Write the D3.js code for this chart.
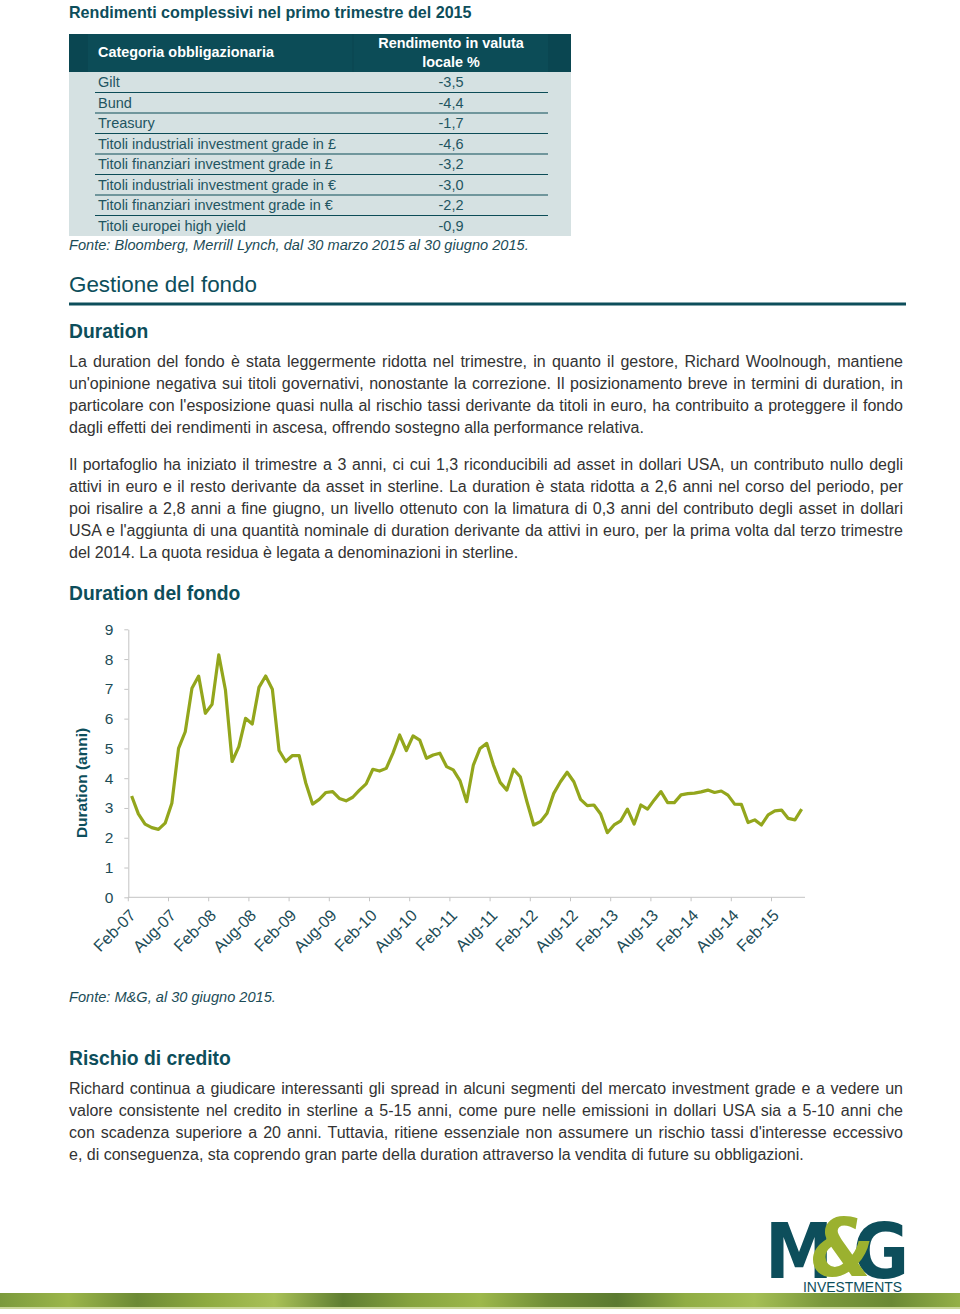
<!DOCTYPE html>
<html>
<head>
<meta charset="utf-8">
<script src="https://cdn.jsdelivr.net/npm/d3@7"></script>
<style>
  body { margin: 0; background: #fff; font-family: "Liberation Sans", Arial, sans-serif; }
  #page { position: relative; width: 960px; height: 1314px; overflow: hidden; }
  #page svg { position: absolute; left: 0; top: 0; }
  .para { position: absolute; left: 69px; width: 834px; font-size: 16px; line-height: 22px; color: #333; }
  .para div { white-space: nowrap; }
</style>
</head>
<body>
<div id="page"></div>
<script>
// ---- data ----
const tableTitle = "Rendimenti complessivi nel primo trimestre del 2015";
const categories = [
  "Gilt", "Bund", "Treasury",
  "Titoli industriali investment grade in £",
  "Titoli finanziari investment grade in £",
  "Titoli industriali investment grade in €",
  "Titoli finanziari investment grade in €",
  "Titoli europei high yield"
];
const returns = ["-3,5", "-4,4", "-1,7", "-4,6", "-3,2", "-3,0", "-2,2", "-0,9"];

// monthly duration, Feb-07 .. Jun-15
const duration = [
  3.40, 2.80, 2.46, 2.34, 2.28, 2.49, 3.16, 5.00, 5.56, 7.02,
  7.43, 6.18, 6.48, 8.14, 6.96, 4.56, 5.06, 6.01, 5.82, 7.05,
  7.43, 6.99, 4.93, 4.56, 4.76, 4.76, 3.83, 3.13, 3.29, 3.52,
  3.55, 3.32, 3.24, 3.36, 3.60, 3.81, 4.30, 4.24, 4.33, 4.84,
  5.45, 4.93, 5.42, 5.28, 4.67, 4.78, 4.84, 4.39, 4.28, 3.92,
  3.21, 4.44, 5.00, 5.17, 4.44, 3.86, 3.60, 4.30, 4.05, 3.21,
  2.43, 2.54, 2.82, 3.49, 3.88, 4.20, 3.88, 3.29, 3.08, 3.10,
  2.80, 2.17, 2.43, 2.57, 2.96, 2.46, 3.10, 2.96, 3.27, 3.55,
  3.18, 3.18, 3.44, 3.48, 3.50, 3.54, 3.60, 3.52, 3.57, 3.43,
  3.13, 3.12, 2.51, 2.60, 2.43, 2.77, 2.90, 2.93, 2.65, 2.60,
  2.96
];
const xTickLabels = ["Feb-07", "Aug-07", "Feb-08", "Aug-08", "Feb-09", "Aug-09", "Feb-10", "Aug-10",
  "Feb-11", "Aug-11", "Feb-12", "Aug-12", "Feb-13", "Aug-13", "Feb-14", "Aug-14", "Feb-15"];
const yTicks = [0, 1, 2, 3, 4, 5, 6, 7, 8, 9];

const para1 = [
  "La duration del fondo è stata leggermente ridotta nel trimestre, in quanto il gestore, Richard Woolnough, mantiene",
  "un'opinione negativa sui titoli governativi, nonostante la correzione. Il posizionamento breve in termini di duration, in",
  "particolare con l'esposizione quasi nulla al rischio tassi derivante da titoli in euro, ha contribuito a proteggere il fondo",
  "dagli effetti dei rendimenti in ascesa, offrendo sostegno alla performance relativa."
];
const para2 = [
  "Il portafoglio ha iniziato il trimestre a 3 anni, ci cui 1,3 riconducibili ad asset in dollari USA, un contributo nullo degli",
  "attivi in euro e il resto derivante da asset in sterline. La duration è stata ridotta a 2,6 anni nel corso del periodo, per",
  "poi risalire a 2,8 anni a fine giugno, un livello ottenuto con la limatura di 0,3 anni del contributo degli asset in dollari",
  "USA e l'aggiunta di una quantità nominale di duration derivante da attivi in euro, per la prima volta dal terzo trimestre",
  "del 2014. La quota residua è legata a denominazioni in sterline."
];
const para3 = [
  "Richard continua a giudicare interessanti gli spread in alcuni segmenti del mercato investment grade e a vedere un",
  "valore consistente nel credito in sterline a 5-15 anni, come pure nelle emissioni in dollari USA sia a 5-10 anni che",
  "con scadenza superiore a 20 anni. Tuttavia, ritiene essenziale non assumere un rischio tassi d'interesse eccessivo",
  "e, di conseguenza, sta coprendo gran parte della duration attraverso la vendita di future su obbligazioni."
];
const bandColors = ["#7b9a3c", "#9cb64a", "#6c8a35", "#8eaa40", "#a9c157", "#5f7e31", "#86a33e",
  "#9db84b", "#6f8d36", "#5b7a30", "#90ad44", "#a5bf55", "#7a983b", "#6a8934", "#94b048"];

// ---- colours ----
const teal = "#0d4e5b";
const tealText = "#1c4c57";
const lineGreen = "#93a61c";
const axisGrey = "#c4c4c4";

const page = d3.select("#page");
const svg = page.append("svg").attr("width", 960).attr("height", 1314)
  .style("font-family", "'Liberation Sans', Arial, sans-serif");

// ---- table ----
svg.append("text").attr("x", 69).attr("y", 18)
  .attr("font-size", 16.1).attr("font-weight", "bold").attr("fill", teal)
  .text(tableTitle);

svg.append("rect").attr("x", 69).attr("y", 34).attr("width", 502).attr("height", 38).attr("fill", "#0a4651");
svg.append("rect").attr("x", 88).attr("y", 34).attr("width", 460).attr("height", 38).attr("fill", "#0c4c57");
svg.append("rect").attr("x", 69).attr("y", 72).attr("width", 502).attr("height", 164).attr("fill", "#d5e1e2");
svg.append("line").attr("x1", 353).attr("x2", 353).attr("y1", 34).attr("y2", 72)
  .attr("stroke", "#0a4550").attr("stroke-width", 1);

svg.append("text").attr("x", 98).attr("y", 57)
  .attr("font-size", 14.4).attr("font-weight", "bold").attr("fill", "#fff")
  .text("Categoria obbligazionaria");
svg.append("text").attr("x", 451).attr("y", 48).attr("text-anchor", "middle")
  .attr("font-size", 14.4).attr("font-weight", "bold").attr("fill", "#fff")
  .text("Rendimento in valuta");
svg.append("text").attr("x", 451).attr("y", 67).attr("text-anchor", "middle")
  .attr("font-size", 14.4).attr("font-weight", "bold").attr("fill", "#fff")
  .text("locale %");

const rowY = d3.scaleBand().domain(d3.range(categories.length)).range([72, 236]);
const rows = svg.append("g").selectAll("g").data(categories).join("g")
  .attr("transform", (d, i) => `translate(0,${rowY(i)})`);
rows.append("text").attr("x", 98).attr("y", rowY.bandwidth() / 2 + 5)
  .attr("font-size", 14.5).attr("fill", "#1f5561").text(d => d);
rows.append("text").attr("x", 451).attr("y", rowY.bandwidth() / 2 + 5).attr("text-anchor", "middle")
  .attr("font-size", 14.5).attr("fill", "#1f5561").text((d, i) => returns[i]);
rows.filter((d, i) => i < categories.length - 1).append("line")
  .attr("x1", 95).attr("x2", 548).attr("y1", rowY.bandwidth()).attr("y2", rowY.bandwidth())
  .attr("stroke", "#0c4c57").attr("stroke-width", 1.2);

svg.append("text").attr("x", 69).attr("y", 250)
  .attr("font-size", 14.6).attr("font-style", "italic").attr("fill", tealText)
  .text("Fonte: Bloomberg, Merrill Lynch, dal 30 marzo 2015 al 30 giugno 2015.");

// ---- section headings ----
svg.append("text").attr("x", 69).attr("y", 292).attr("font-size", 22.4).attr("fill", teal).text("Gestione del fondo");
svg.append("rect").attr("x", 69).attr("y", 302.5).attr("width", 837).attr("height", 3).attr("fill", teal);
svg.append("text").attr("x", 69).attr("y", 338).attr("font-size", 19.3).attr("font-weight", "bold").attr("fill", teal).text("Duration");
svg.append("text").attr("x", 69).attr("y", 600).attr("font-size", 19.3).attr("font-weight", "bold").attr("fill", teal).text("Duration del fondo");
svg.append("text").attr("x", 69).attr("y", 1065).attr("font-size", 19.3).attr("font-weight", "bold").attr("fill", teal).text("Rischio di credito");

// ---- paragraphs (each line justified to the column width) ----
function addPara(lines, top) {
  const p = page.append("div").attr("class", "para").style("top", top + "px");
  p.selectAll("div").data(lines).join("div")
    .each(function (d, i) {
      const span = d3.select(this).append("span").text(d);
      if (i === lines.length - 1) return;
      const w = span.node().getBoundingClientRect().width;
      const gaps = d.split(" ").length - 1;
      d3.select(this).style("word-spacing", ((834 - w) / gaps) + "px");
    });
}
addPara(para1, 351);
addPara(para2, 454);
addPara(para3, 1078);

// ---- chart ----
const x = d3.scaleBand().domain(d3.range(duration.length)).range([128.3, 805]);
const y = d3.scaleLinear().domain([0, 9]).range([897.3, 629.3]);
const cx = i => x(i) + x.bandwidth() / 2;

const yAxis = svg.append("g").attr("transform", `translate(${x.range()[0]},0)`)
  .call(d3.axisLeft(y).tickValues(yTicks).tickSize(4).tickPadding(11).tickSizeOuter(0));
yAxis.select(".domain").attr("stroke", axisGrey);
yAxis.selectAll(".tick line").attr("stroke", axisGrey);
yAxis.selectAll(".tick text").attr("font-size", 15.5).attr("fill", tealText)
  .attr("font-family", "'Liberation Sans', Arial, sans-serif");

const tickIdx = d3.range(0, duration.length, 6);
const xAxis = svg.append("g").attr("transform", `translate(0,${y(0)})`);
xAxis.append("line").attr("x1", x.range()[0]).attr("x2", x.range()[1]).attr("stroke", axisGrey);
xAxis.selectAll("line.tk").data(tickIdx).join("line").attr("class", "tk")
  .attr("x1", i => x(i)).attr("x2", i => x(i)).attr("y1", 0).attr("y2", 4).attr("stroke", axisGrey);
xAxis.selectAll("text").data(tickIdx).join("text")
  .attr("transform", i => `translate(${cx(i) + 5},${19}) rotate(-45)`)
  .attr("text-anchor", "end").attr("font-size", 16.3).attr("fill", tealText)
  .text((i, k) => xTickLabels[k]);

svg.append("text").attr("transform", `translate(87,783) rotate(-90)`)
  .attr("text-anchor", "middle").attr("font-size", 15.5).attr("font-weight", "bold").attr("fill", teal)
  .text("Duration (anni)");

svg.append("path").datum(duration)
  .attr("fill", "none").attr("stroke", lineGreen).attr("stroke-width", 3.2).attr("stroke-linejoin", "round")
  .attr("d", d3.line().x((d, i) => cx(i)).y(d => y(d)));

svg.append("text").attr("x", 69).attr("y", 1002)
  .attr("font-size", 14.6).attr("font-style", "italic").attr("fill", tealText)
  .text("Fonte: M&G, al 30 giugno 2015.");

// ---- logo ----
const logo = svg.append("g").attr("font-family", "'Liberation Sans Narrow','DejaVu Sans Condensed','Liberation Sans',sans-serif")
  .attr("font-weight", "bold");
logo.append("text").attr("x", 765).attr("y", 1278).attr("font-size", 76).attr("fill", teal).text("M");
logo.append("text").attr("x", 853).attr("y", 1278).attr("font-size", 76).attr("fill", teal).text("G");
logo.append("text").attr("x", 811).attr("y", 1276).attr("font-size", 80).attr("font-style", "italic")
  .attr("fill", "#9bb12f").text("&");
svg.append("text").attr("x", 803).attr("y", 1292).attr("font-size", 15).attr("fill", teal)
  .attr("textLength", 99).attr("lengthAdjust", "spacingAndGlyphs")
  .attr("font-family", "'Liberation Sans Narrow','Liberation Sans',sans-serif").text("INVESTMENTS");

// ---- bottom band ----
const grad = svg.append("defs").append("linearGradient").attr("id", "band");
grad.selectAll("stop").data(bandColors).join("stop")
  .attr("offset", (d, i) => i / (bandColors.length - 1)).attr("stop-color", d => d);
svg.append("rect").attr("x", 0).attr("y", 1293).attr("width", 960).attr("height", 15).attr("fill", "url(#band)");
svg.append("rect").attr("x", 0).attr("y", 1307).attr("width", 960).attr("height", 2).attr("fill", "#c9d79a");
</script>
</body>
</html>
